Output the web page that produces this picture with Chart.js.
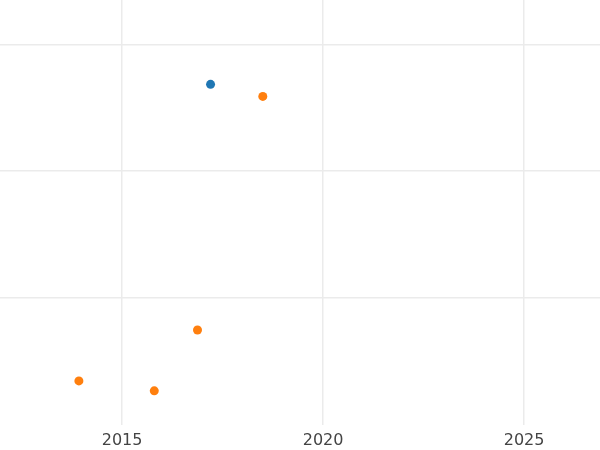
<!DOCTYPE html>
<html>
<head>
<script src="https://cdn.jsdelivr.net/npm/chart.js@4"></script>
<style>
  body { margin: 0; background: #fff; overflow: hidden; }
  #wrap { position: absolute; left: -6px; top: -5px; width: 612px; height: 461px; }
</style>
</head>
<body>
<div id="wrap"><canvas id="grafico"></canvas></div>
<script>
const blueX = [2017.2];
const blueY = [2.685];
const orangeX = [2018.5, 2016.875, 2013.925, 2015.8];
const orangeY = [2.59, 0.748, 0.346, 0.268];
const xTicks = [2015, 2020, 2025];
const yTicks = [0, 1, 2, 3];

const toPoints = (xs, ys) => xs.map((x, i) => ({ x: x, y: ys[i] }));

new Chart(document.getElementById("grafico").getContext("2d"), {
  type: "scatter",
  data: {
    datasets: [
      { data: toPoints(blueX, blueY), backgroundColor: "#1f77b4", borderWidth: 0, pointRadius: 4.5 },
      { data: toPoints(orangeX, orangeY), backgroundColor: "#ff7f0e", borderWidth: 0, pointRadius: 4.5 },
    ],
  },
  options: {
    responsive: true,
    maintainAspectRatio: false,
    animation: false,
    layout: { padding: 0 },
    plugins: { legend: { display: false }, tooltip: { enabled: false } },
    scales: {
      x: {
        type: "linear",
        min: 2011.925,
        max: 2026.925,
        afterBuildTicks: (axis) => { axis.ticks = xTicks.map((v) => ({ value: v })); },
        ticks: { callback: (v) => String(v), color: "#444", font: { family: "DejaVu Sans", size: 16 }, padding: 6 },
        grid: { color: "#ebebeb", lineWidth: 1.5, drawTicks: false },
        border: { display: false },
      },
      y: {
        min: 0,
        max: 3.354,
        afterBuildTicks: (axis) => { axis.ticks = yTicks.map((v) => ({ value: v })); },
        ticks: { display: false },
        grid: { color: (c) => (c.tick && c.tick.value === 0 ? "rgba(0,0,0,0)" : "#ebebeb"), lineWidth: 1.5, drawTicks: false },
        border: { display: false },
      },
    },
  },
});
</script>
</body>
</html>
